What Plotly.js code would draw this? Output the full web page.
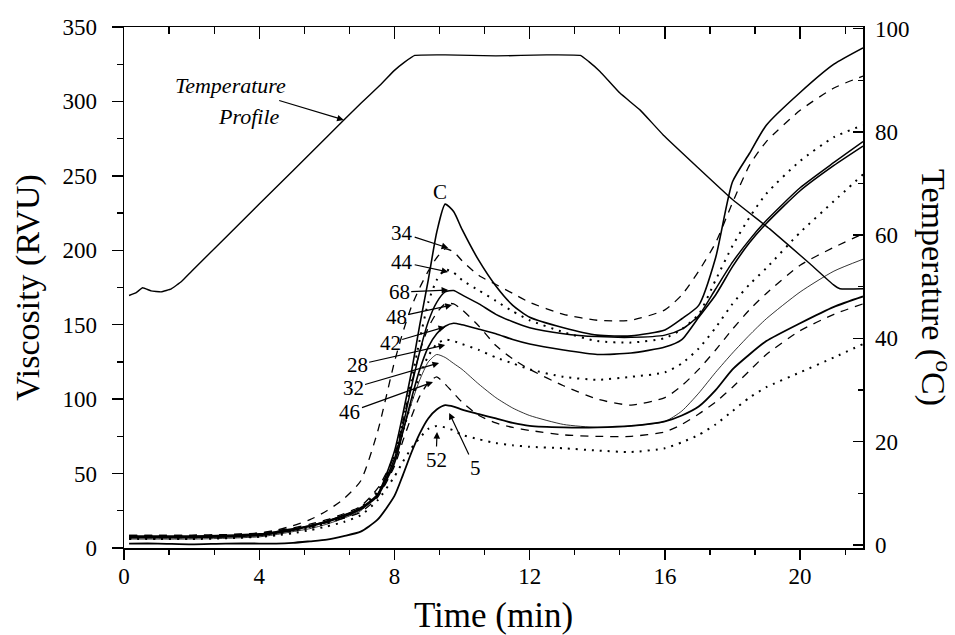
<!DOCTYPE html>
<html>
<head>
<meta charset="utf-8">
<script src="https://cdn.plot.ly/plotly-3.0.1.min.js"></script>
<style>
  html, body { margin: 0; padding: 0; background: #fff; }
  #chart { width: 955px; height: 635px; }
</style>
</head>
<body>
<div id="chart"></div>
<script>
// ---- Data ----
// Shared time grid (min) for viscosity curves
const time = [0.15, 1, 2, 3, 4, 4.5, 5, 5.5, 6, 6.5, 7, 7.5, 8, 8.25, 8.5, 8.75, 9, 9.25, 9.5, 9.75,
              10, 10.5, 11, 11.5, 12, 13, 14, 15, 16, 16.5, 17, 17.5, 18, 18.5, 19, 20, 21, 21.86];

// Viscosity (RVU) per sample
const viscC  = [7, 7, 7, 7.5, 8.5, 10, 12, 15, 18, 22, 27, 36, 65, 90, 118, 150, 180, 212, 231, 226,
                214, 193, 176, 163, 155, 148, 143, 142.5, 146.5, 154, 163, 195, 246, 265, 284, 306, 325, 336];
const visc34 = [8.5, 8.5, 8.5, 9, 10, 12, 15, 19, 25, 33, 45, 78, 125, 145, 162, 175, 186, 195, 201, 199,
                193, 183, 177, 171, 165, 157, 153, 153, 160, 170, 186, 205, 232, 257, 273, 294, 309, 317];
const visc44 = [7, 7, 7, 7.5, 8.5, 10, 12, 14, 17, 21, 27, 37, 62, 85, 112, 140, 165, 180, 187, 185,
                180, 173, 166, 159, 153, 145, 139, 138, 141, 147, 157, 180, 203, 222, 238, 260, 276, 284];
const visc68 = [8, 8, 8, 8.5, 9.5, 11, 13, 15, 18, 22, 26, 36, 60, 82, 108, 132, 152, 165, 172, 173,
                170, 164, 157, 152, 148, 144, 142, 141.5, 143, 147, 156, 174, 192, 207, 220, 242, 259, 273];
const visc42 = [7.5, 7.5, 7.5, 8, 9, 10.5, 12.5, 14.5, 17.5, 21, 26, 35, 57, 78, 100, 120, 135, 144, 149, 151,
                150, 147, 144, 140, 137, 133, 130, 131, 135, 140, 155, 170, 189, 205, 218, 240, 257, 270];
const visc48 = [8.5, 8.5, 8.5, 9, 10, 11.5, 13.5, 16, 19, 23, 28, 40, 62, 85, 110, 132, 148, 158, 164, 164,
                160, 149, 136, 127, 120, 109, 100, 96, 101, 109, 120, 133, 147, 160, 171, 190, 202, 211];
const visc28 = [6.5, 6.5, 6.5, 7, 8, 9.5, 11.5, 13.5, 16.5, 20.5, 27, 38, 58, 78, 98, 116, 129, 137, 140, 139,
                137, 133, 128, 124, 120, 115, 113, 115, 118, 124, 134, 148, 164, 177, 188, 212, 233, 251];
const visc32 = [6, 6, 6, 6.5, 7.5, 9, 11, 13, 16, 20, 25, 36, 58, 78, 97, 113, 125, 130, 128, 124,
                120, 110, 101, 94, 89, 83, 81, 82, 85, 92, 104, 118, 131, 143, 154, 172, 186, 194];
const visc46 = [7, 7, 7, 7.5, 8.5, 10, 12, 14, 17, 20, 24, 34, 55, 72, 88, 102, 111, 115, 110, 104,
                98, 89, 84, 81, 79, 76, 75, 75, 78, 83, 90, 98, 108, 119, 130, 146, 157, 164];
const visc52 = [6, 6, 6, 6.5, 7.5, 8.5, 10, 12, 14.5, 17.5, 22, 32, 48, 58, 67, 74, 80, 82, 81, 79,
                76, 73, 70.5, 69, 68, 67, 65.5, 64.5, 67, 71, 76, 83, 92, 101, 108, 118, 128, 137];
const visc5  = [3, 3, 2.5, 3, 3, 3, 3.5, 4.5, 5.6, 8, 11, 19, 35, 49, 64, 77, 87, 93, 96, 95,
                93, 90, 87, 84, 82, 81, 81, 82, 85, 89, 95, 106, 120, 130, 139, 151, 162, 169];

// Temperature profile (°C)
const tempTime = [0.15, 0.35, 0.55, 0.8, 1.1, 1.4, 1.7, 2, 4, 6, 7, 7.57, 8.0, 8.3, 8.6, 9.5, 11, 12.5, 13.5,
                  13.75, 14.08, 14.67, 15.27, 15.95, 18.0, 19.1, 20.3, 20.98, 21.18, 21.86];
const tempVals = [48.3, 48.8, 49.8, 49.2, 49.0, 49.6, 51.0, 53, 66, 79, 85.5, 89, 91.9, 93.5, 94.8, 94.9, 94.7, 94.9, 94.8,
                  93.6, 91.7, 87.5, 84.2, 79.4, 66.9, 61.2, 54.4, 50.4, 49.6, 49.6];

// Tick values
const xTicks = [0, 4, 8, 12, 16, 20];
const yTicks = [0, 50, 100, 150, 200, 250, 300, 350];
const y2Ticks = [0, 20, 40, 60, 80, 100];

// Curve labels (series names)
const seriesNames = ['C', '34', '44', '68', '48', '42', '28', '32', '46', '52', '5'];

// ---- Styles ----
const FONT = 'Liberation Serif, Times New Roman, serif';
const DASH = '8px,7px';
const DOT = '2px,6px';

const seriesData = {C: viscC, '34': visc34, '44': visc44, '68': visc68, '48': visc48, '42': visc42,
                    '28': visc28, '32': visc32, '46': visc46, '52': visc52, '5': visc5};
const seriesStyle = {
  C:   {dash: 'solid', width: 1.6},
  '34': {dash: DASH, width: 1.3},
  '44': {dash: DOT, width: 2},
  '68': {dash: 'solid', width: 1.5},
  '48': {dash: DASH, width: 1.3},
  '42': {dash: 'solid', width: 1.6},
  '28': {dash: DOT, width: 2},
  '32': {dash: 'solid', width: 0.8},
  '46': {dash: DASH, width: 1.3},
  '52': {dash: DOT, width: 2},
  '5':  {dash: 'solid', width: 1.8}
};

const traces = seriesNames.map(n => ({
  type: 'scatter', mode: 'lines', name: n,
  x: time, y: seriesData[n],
  line: {color: '#000', width: seriesStyle[n].width, dash: seriesStyle[n].dash, shape: 'spline', smoothing: 0.6},
  hoverinfo: 'skip', showlegend: false
}));

traces.push({
  type: 'scatter', mode: 'lines', name: 'Temperature',
  x: tempTime, y: tempVals, yaxis: 'y2',
  line: {color: '#000', width: 1.4, shape: 'spline', smoothing: 0.3},
  hoverinfo: 'skip', showlegend: false
});
// carrier for the mirrored top axis
traces.push({type: 'scatter', mode: 'lines', x: [0], y: [null], xaxis: 'x2', hoverinfo: 'skip', showlegend: false});

// Label annotations: [text, tip time, tip viscosity, ax, ay]
const curveLabels = [
  ['34', 9.59, 201.5, -46, -15],
  ['44', 9.59, 185.4, -46, -10],
  ['68', 9.59, 173.3, -49, 2],
  ['48', 9.70, 163.2, -55, 12],
  ['42', 9.50, 148.5, -55, 16],
  ['28', 9.50, 136.4, -88, 20],
  ['32', 9.32, 124.3, -86, 25],
  ['46', 9.14, 111.5, -83, 30],
  ['52', 9.26, 77.9, -1, 28],
  ['5', 9.62, 90.7, 26, 55]
];

const annotations = curveLabels.map(l => ({
  text: l[0], x: l[1], y: l[2], xref: 'x', yref: 'y', ax: l[3], ay: l[4],
  showarrow: true, arrowhead: 2, arrowsize: 1.1, arrowwidth: 1.2, arrowcolor: '#000',
  font: {family: FONT, size: 21, color: '#000'}
}));
annotations.push({text: 'C', x: 9.35, y: 239, xref: 'x', yref: 'y', showarrow: false,
  font: {family: FONT, size: 21, color: '#000'}});
// "Temperature" carries the arrow to the profile line (tip on the y2 scale)
annotations.push({text: '<i>Temperature</i>', x: 6.5, y: 82.3, xref: 'x', yref: 'y2', ax: -113, ay: -34,
  showarrow: true, arrowhead: 2, arrowsize: 1.1, arrowwidth: 1.2, arrowcolor: '#000', startstandoff: 2,
  font: {family: FONT, size: 22, color: '#000'}});
annotations.push({text: '<i>Profile</i>', x: 3.70, y: 290.2, xref: 'x', yref: 'y', showarrow: false,
  font: {family: FONT, size: 22, color: '#000'}});
annotations.push({text: 'Temperature (<sup>o</sup>C)', textangle: 90, x: 1.098, y: 0.5,
  xref: 'paper', yref: 'paper', xanchor: 'center', yanchor: 'middle', showarrow: false,
  font: {family: FONT, size: 34, color: '#000'}});

const axisCommon = {
  showgrid: false, zeroline: false, showline: true, linecolor: '#000', linewidth: 1.5,
  tickcolor: '#000', tickwidth: 1.4, tickfont: {family: FONT, size: 23, color: '#000'}
};

const layout = {
  width: 955, height: 635,
  margin: {l: 124, r: 92, t: 27, b: 87},
  paper_bgcolor: '#fff', plot_bgcolor: '#fff',
  font: {family: FONT, color: '#000'},
  showlegend: false,
  xaxis: Object.assign({}, axisCommon, {
    range: [0, 21.86], tickmode: 'array', tickvals: xTicks, ticks: 'outside', ticklen: 10,
    ticklabelstandoff: -3,
    minor: {tickmode: 'linear', tick0: 0, dtick: 4 / 3, ticks: 'outside', ticklen: 5, tickcolor: '#000', tickwidth: 1.2, showgrid: false},
    title: {text: 'Time (min)', font: {family: FONT, size: 35, color: '#000'}, standoff: 16},
    automargin: false
  }),
  xaxis2: Object.assign({}, axisCommon, {
    range: [0, 21.86], overlaying: 'x', side: 'top', anchor: 'y', tickmode: 'array', tickvals: xTicks,
    ticks: 'inside', ticklen: 12, showticklabels: false,
    minor: {tickmode: 'linear', tick0: 0, dtick: 4 / 3, ticks: 'inside', ticklen: 7, tickcolor: '#000', tickwidth: 1.2, showgrid: false}
  }),
  yaxis: Object.assign({}, axisCommon, {
    range: [0, 350], tickmode: 'array', tickvals: yTicks, ticks: 'outside', ticklen: 11,
    ticklabelstandoff: 10,
    minor: {tickmode: 'linear', tick0: 0, dtick: 25, ticks: 'outside', ticklen: 6, tickcolor: '#000', tickwidth: 1.2, showgrid: false},
    title: {text: 'Viscosity (RVU)', font: {family: FONT, size: 34, color: '#000'}, standoff: 12},
    automargin: false
  }),
  yaxis2: Object.assign({}, axisCommon, {
    range: [-0.6, 100.3], overlaying: 'y', side: 'right', anchor: 'x', tickmode: 'array', tickvals: y2Ticks,
    ticks: 'inside', ticklen: 10, ticklabelstandoff: 6,
    minor: {tickmode: 'linear', tick0: 0, dtick: 10, ticks: 'inside', ticklen: 5, tickcolor: '#000', tickwidth: 1.2, showgrid: false},
    automargin: false
  }),
  annotations: annotations
};

Plotly.newPlot('chart', traces, layout, {displayModeBar: false, staticPlot: true});
</script>
</body>
</html>
